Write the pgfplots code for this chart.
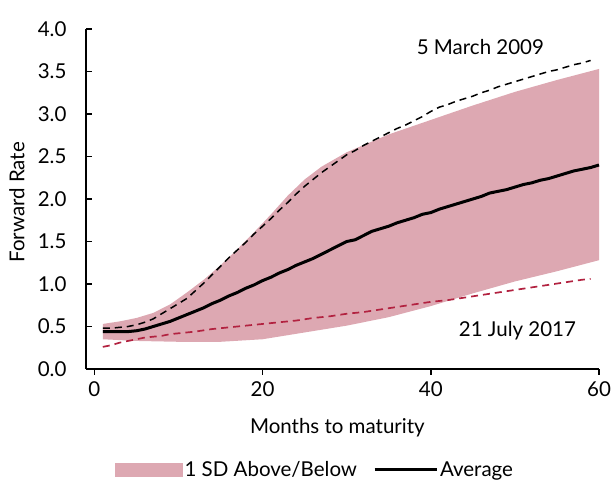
\documentclass[border=0pt]{standalone}
\usepackage{pgfplots}
\pgfplotsset{compat=1.18}
\usepgfplotslibrary{fillbetween}
\usepackage{fontspec}
\setmainfont{Lato}
\definecolor{bandpink}{RGB}{221,168,178}
\definecolor{darkred}{RGB}{178,34,64}
\newcommand{\cf}{\fontsize{20.5}{24}\selectfont}
\begin{document}
\begin{tikzpicture}
\begin{axis}[
  scale only axis, width=513pt, height=340pt,
  xmin=-1, xmax=60, ymin=0, ymax=4,
  axis lines=left, axis line style={-, line width=1.4pt},
  xtick={0,20,40,60}, ytick={0,0.5,...,4},
  tick style={black, line width=1.4pt, major tick length=6pt},
  tick align=outside,
  ytick style={xshift=6pt},
  y tick label style={/pgf/number format/fixed, /pgf/number format/fixed zerofill, /pgf/number format/precision=1},
  /pgf/number format/assume math mode=true,
  ticklabel style={font=\cf},
  yticklabel style={xshift=-10pt},
  xticklabel style={yshift=-3pt},
  xlabel={Months to maturity}, ylabel={Forward Rate},
  label style={font=\cf},
  xlabel style={at={(axis description cs:0.49,-0.174)}, anchor=center},
  ylabel style={at={(axis description cs:-0.1345,0.49)}, anchor=center, rotate=0},
  legend columns=2,
  legend style={draw=none, font=\cf, at={(0.446,-0.297)}, anchor=center, /tikz/every even column/.append style={column sep=14pt}},
  clip=false,
]
\addplot[name path=up, draw=none, forget plot] coordinates {
(1,0.53)(3,0.56)(5,0.60)(7,0.66)(9,0.76)(11,0.90)(13,1.05)(15,1.22)(17,1.41)(19,1.61)(21,1.82)(23,2.04)(25,2.23)(27,2.38)(30,2.55)(35,2.76)(40,2.93)(45,3.10)(50,3.26)(55,3.40)(60,3.53)};
\addplot[name path=lo, draw=none, forget plot] coordinates {
(1,0.35)(5,0.33)(10,0.32)(15,0.32)(20,0.35)(25,0.43)(30,0.51)(35,0.61)(40,0.74)(45,0.89)(50,1.03)(55,1.15)(60,1.28)};
\addplot[fill=bandpink, draw=none, area legend,
  legend image code/.code={\fill[bandpink] (0pt,-7pt) rectangle (68pt,7pt);}]
  fill between[of=up and lo];
\addlegendentry{1 SD Above/Below}
\addplot[black, line width=1.5pt, dash pattern=on 7pt off 5pt, forget plot] coordinates {
(1,0.48)(2,0.48)(3,0.49)(4,0.50)(5,0.52)(6,0.55)(7,0.59)(8,0.65)(9,0.71)(10,0.77)(11,0.83)(12,0.92)(13,1.01)(14,1.11)(15,1.21)(16,1.31)(17,1.40)(18,1.49)(19,1.59)(20,1.68)(21,1.77)(22,1.87)(23,1.96)(24,2.06)(25,2.15)(26,2.23)(27,2.31)(28,2.38)(29,2.45)(30,2.52)(31,2.57)(32,2.63)(33,2.68)(34,2.73)(35,2.78)(36,2.83)(37,2.87)(38,2.92)(39,2.97)(40,3.03)(41,3.08)(42,3.11)(43,3.15)(44,3.18)(45,3.21)(46,3.25)(47,3.28)(48,3.32)(49,3.35)(50,3.38)(51,3.41)(52,3.44)(53,3.47)(54,3.50)(55,3.52)(56,3.55)(57,3.58)(58,3.60)(59,3.63)};
\addplot[darkred, line width=1.7pt, dash pattern=on 7pt off 5pt, forget plot] coordinates {
(1,0.26)(2,0.28)(3,0.31)(4,0.33)(5,0.35)(6,0.37)(7,0.38)(8,0.39)(9,0.41)(10,0.42)(12,0.44)(14,0.47)(16,0.49)(18,0.51)(20,0.53)(22,0.55)(24,0.57)(26,0.60)(28,0.62)(30,0.65)(32,0.67)(34,0.70)(36,0.73)(38,0.76)(40,0.79)(42,0.81)(44,0.84)(46,0.87)(48,0.90)(50,0.93)(52,0.96)(54,0.99)(56,1.02)(58,1.05)(59,1.06)};
\addplot[black, line width=3pt,
  legend image code/.code={\draw[black, line width=3pt] (0pt,0pt) -- (62pt,0pt);}] coordinates {
(1,0.44)(2,0.44)(3,0.44)(4,0.44)(5,0.45)(6,0.47)(7,0.50)(8,0.53)(9,0.56)(10,0.60)(11,0.64)(12,0.68)(13,0.72)(14,0.77)(15,0.81)(16,0.86)(17,0.90)(18,0.95)(19,0.99)(20,1.04)(21,1.08)(22,1.13)(23,1.17)(24,1.22)(25,1.26)(26,1.30)(27,1.35)(28,1.40)(29,1.45)(30,1.50)(31,1.52)(32,1.57)(33,1.62)(34,1.65)(35,1.68)(36,1.72)(37,1.75)(38,1.78)(39,1.82)(40,1.84)(41,1.88)(42,1.91)(43,1.94)(44,1.97)(45,2.00)(46,2.03)(47,2.07)(48,2.09)(49,2.11)(50,2.14)(51,2.17)(52,2.19)(53,2.22)(54,2.24)(55,2.27)(56,2.30)(57,2.33)(58,2.35)(59,2.37)(60,2.40)};
\addlegendentry{Average}
\node[font=\cf] at (axis cs:45.9,3.79) {5 March 2009};
\node[font=\cf] at (axis cs:50.3,0.45) {21 July 2017};
\coordinate (sw) at (rel axis cs:0,0);
\end{axis}
\pgfresetboundingbox
\path[use as bounding box] (sw) ++(-86pt,-112pt) rectangle ++(613pt,481pt);
\end{tikzpicture}
\end{document}
